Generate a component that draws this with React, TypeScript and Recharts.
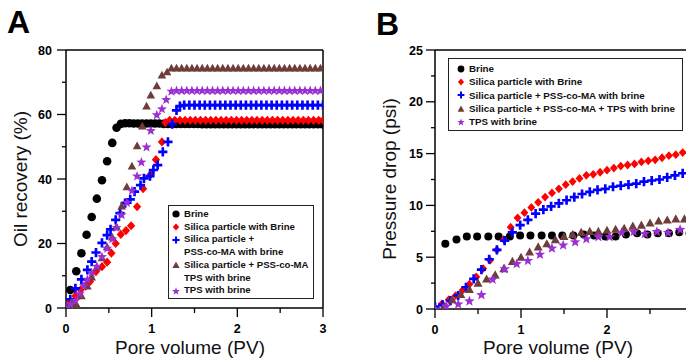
import React from 'react';
import { ScatterChart, Scatter, XAxis, YAxis, ReferenceLine } from 'recharts';

// ---- Panel A: oil recovery (%) vs pore volume (PV) ----
const brineA_pv = [0, 0.05, 0.12, 0.18, 0.24, 0.30, 0.36, 0.42, 0.48, 0.54, 0.59, 0.64, 0.69, 0.74, 0.79, 0.84, 0.89, 0.94, 0.99, 1.04, 1.09, 1.14, 1.19, 1.24, 1.29, 1.34, 1.39, 1.44, 1.49, 1.54, 1.59, 1.64, 1.69, 1.74, 1.79, 1.84, 1.89, 1.94, 1.99, 2.04, 2.09, 2.14, 2.19, 2.24, 2.29, 2.34, 2.39, 2.44, 2.49, 2.54, 2.59, 2.64, 2.69, 2.74, 2.79, 2.84, 2.89, 2.94, 2.99];
const brineA_rec = [0, 5.6, 11.4, 17, 22.7, 28.2, 33.9, 39.6, 45.5, 51.2, 55.9, 57.1, 57.3, 57.3, 57.2, 57.2, 57.2, 57.2, 57.2, 57.2, 57.2, 57.1, 57.1, 57.1, 57.1, 57.1, 57.1, 57.1, 57.1, 57.1, 57.0, 57.0, 57.0, 57.0, 57.0, 57.0, 57.0, 57.0, 57.0, 57.0, 57.0, 57.0, 57.0, 57.0, 57.0, 57.0, 57.0, 57.0, 57.0, 57.0, 57.0, 57.0, 57.0, 57.0, 57.0, 57.0, 57.0, 57.0, 57.0];

const silicaA_pv = [0, 0.05, 0.11, 0.17, 0.23, 0.28, 0.35, 0.42, 0.48, 0.53, 0.58, 0.64, 0.70, 0.76, 0.83, 0.90, 0.99, 1.05, 1.12, 1.16, 1.21, 1.27, 1.33, 1.39, 1.45, 1.51, 1.57, 1.63, 1.69, 1.75, 1.81, 1.87, 1.93, 1.99, 2.05, 2.11, 2.17, 2.23, 2.29, 2.35, 2.41, 2.47, 2.53, 2.59, 2.65, 2.71, 2.77, 2.83, 2.89, 2.95, 3.0];
const silicaA_rec = [0, 2.0, 3.7, 5.6, 6.8, 8.2, 11.3, 12.8, 14.2, 17, 20, 22.8, 24, 25.5, 31.4, 37, 41.5, 46, 51.5, 57.5, 58.2, 58.2, 58.2, 58.2, 58.2, 58.2, 58.2, 58.2, 58.2, 58.2, 58.2, 58.2, 58.2, 58.2, 58.2, 58.2, 58.2, 58.2, 58.2, 58.2, 58.2, 58.2, 58.2, 58.2, 58.2, 58.2, 58.2, 58.2, 58.2, 58.2, 58.2];

const pssA_pv = [0, 0.05, 0.11, 0.18, 0.25, 0.30, 0.35, 0.42, 0.48, 0.52, 0.58, 0.63, 0.69, 0.75, 0.80, 0.87, 0.91, 0.98, 1.02, 1.07, 1.13, 1.19, 1.24, 1.29, 1.33, 1.38, 1.44, 1.50, 1.56, 1.62, 1.68, 1.74, 1.80, 1.86, 1.92, 1.98, 2.04, 2.10, 2.16, 2.22, 2.28, 2.34, 2.40, 2.46, 2.52, 2.58, 2.64, 2.70, 2.76, 2.82, 2.88, 2.94, 3.0];
const pssA_rec = [0, 2.7, 6.1, 8.9, 11.8, 14.4, 17.2, 20.2, 22.6, 24.4, 27.3, 29.4, 32.5, 33.7, 36.1, 38.1, 40.2, 40.9, 42.8, 44.3, 48.4, 51.5, 57, 61.3, 62.6, 62.9, 62.9, 62.9, 62.9, 62.9, 62.9, 62.9, 62.9, 62.9, 62.9, 62.9, 62.9, 62.9, 62.9, 62.9, 62.9, 62.9, 62.9, 62.9, 62.9, 62.9, 62.9, 62.9, 62.9, 62.9, 62.9, 62.9, 62.9];

const tpsMixA_pv = [0, 0.06, 0.12, 0.18, 0.25, 0.30, 0.36, 0.42, 0.48, 0.54, 0.59, 0.65, 0.71, 0.77, 0.83, 0.89, 0.94, 0.99, 1.06, 1.12, 1.18, 1.23, 1.29, 1.35, 1.41, 1.47, 1.53, 1.59, 1.65, 1.71, 1.77, 1.83, 1.89, 1.95, 2.01, 2.07, 2.13, 2.19, 2.25, 2.31, 2.37, 2.43, 2.49, 2.55, 2.61, 2.67, 2.73, 2.79, 2.85, 2.91, 2.97];
const tpsMixA_rec = [0, 1.5, 1.2, 3.8, 6.8, 9.6, 12.7, 15.6, 19, 22, 25.2, 31.6, 37.6, 44, 50.3, 56.4, 62.6, 66, 68.9, 72.2, 73.2, 74.4, 74.4, 74.4, 74.4, 74.4, 74.4, 74.4, 74.4, 74.4, 74.4, 74.4, 74.4, 74.4, 74.4, 74.4, 74.4, 74.4, 74.4, 74.4, 74.4, 74.4, 74.4, 74.4, 74.4, 74.4, 74.4, 74.4, 74.4, 74.4, 74.4];

const tpsA_pv = [0, 0.05, 0.11, 0.16, 0.21, 0.25, 0.30, 0.36, 0.42, 0.48, 0.54, 0.59, 0.65, 0.71, 0.77, 0.83, 0.88, 0.94, 0.99, 1.06, 1.12, 1.17, 1.23, 1.29, 1.35, 1.41, 1.47, 1.53, 1.59, 1.65, 1.71, 1.77, 1.83, 1.89, 1.95, 2.01, 2.07, 2.13, 2.19, 2.25, 2.31, 2.37, 2.43, 2.49, 2.55, 2.61, 2.67, 2.73, 2.79, 2.85, 2.91, 2.97];
const tpsA_rec = [0, 1.2, 2.4, 4.5, 7, 9, 11, 13, 16, 18.6, 21.5, 25, 29, 32.8, 36.5, 41, 45.3, 50, 55.1, 60, 61.8, 64.7, 67.3, 67.5, 67.5, 67.5, 67.5, 67.5, 67.5, 67.5, 67.5, 67.5, 67.5, 67.5, 67.5, 67.5, 67.5, 67.5, 67.5, 67.5, 67.5, 67.5, 67.5, 67.5, 67.5, 67.5, 67.5, 67.5, 67.5, 67.5, 67.5, 67.5];

// ---- Panel B: pressure drop (psi) vs pore volume (PV) ----
const brineB_pv = [0, 0.12, 0.25, 0.37, 0.49, 0.62, 0.74, 0.87, 0.99, 1.11, 1.24, 1.36, 1.48, 1.61, 1.73, 1.85, 1.98, 2.10, 2.22, 2.35, 2.47, 2.59, 2.72, 2.84, 2.96];
const brineB_dp = [0, 6.3, 6.7, 7.0, 7.0, 7.0, 7.0, 7.0, 7.1, 7.1, 7.1, 7.1, 7.1, 7.1, 7.2, 7.1, 7.0, 7.0, 7.2, 7.3, 7.2, 7.3, 7.3, 7.4, 7.3];

const silicaB_pv = [0, 0.08, 0.16, 0.24, 0.32, 0.40, 0.48, 0.56, 0.64, 0.72, 0.80, 0.88, 0.96, 1.04, 1.12, 1.20, 1.28, 1.36, 1.44, 1.52, 1.60, 1.68, 1.76, 1.84, 1.92, 2.00, 2.08, 2.16, 2.24, 2.32, 2.40, 2.48, 2.56, 2.64, 2.72, 2.80, 2.88, 2.96];
const silicaB_dp = [0.1, 0.5, 0.9, 1.3, 1.8, 2.4, 3.1, 3.9, 4.7, 5.7, 6.7, 7.9, 8.8, 9.3, 9.8, 10.3, 10.8, 11.2, 11.6, 12.0, 12.3, 12.6, 12.9, 13.0, 13.2, 13.4, 13.6, 13.8, 13.9, 14.0, 14.2, 14.3, 14.4, 14.6, 14.8, 14.9, 15.1, 15.2];

const pssB_pv = [0, 0.09, 0.18, 0.27, 0.36, 0.45, 0.54, 0.63, 0.72, 0.81, 0.90, 0.99, 1.08, 1.17, 1.26, 1.35, 1.44, 1.53, 1.62, 1.71, 1.80, 1.89, 1.98, 2.07, 2.16, 2.25, 2.34, 2.43, 2.52, 2.61, 2.70, 2.79, 2.88];
const pssB_dp = [0.2, 0.4, 0.8, 1.3, 2.1, 2.9, 3.8, 4.8, 5.7, 6.6, 7.4, 8.1, 8.6, 9.2, 9.6, 9.9, 10.2, 10.5, 10.8, 11.1, 11.3, 11.5, 11.6, 11.8, 11.9, 12.0, 12.1, 12.3, 12.4, 12.5, 12.7, 12.9, 13.1];

const tpsMixB_pv = [0, 0.1, 0.2, 0.3, 0.4, 0.5, 0.6, 0.7, 0.8, 0.9, 1.0, 1.1, 1.2, 1.3, 1.4, 1.5, 1.6, 1.7, 1.8, 1.9, 2.0, 2.1, 2.2, 2.3, 2.4, 2.5, 2.6, 2.7, 2.8, 2.9];
const tpsMixB_dp = [0, 0.2, 0.9, 1.4, 1.9, 2.5, 2.9, 3.3, 3.9, 4.6, 5.0, 5.5, 6.0, 6.3, 6.7, 7.0, 7.2, 7.4, 7.5, 7.5, 7.6, 7.7, 7.8, 8.0, 8.1, 8.3, 8.5, 8.6, 8.7, 8.7];

const tpsB_pv = [0, 0.13, 0.27, 0.40, 0.54, 0.67, 0.81, 0.95, 1.08, 1.22, 1.36, 1.49, 1.63, 1.76, 1.90, 2.03, 2.17, 2.31, 2.44, 2.58, 2.71, 2.85];
const tpsB_dp = [0, 0.3, 0.5, 0.8, 1.4, 2.9, 3.9, 4.4, 4.7, 5.3, 5.9, 6.2, 6.5, 6.8, 7.0, 7.0, 7.4, 7.5, 7.3, 7.5, 7.4, 7.7];

const legendA = [
  ['Brine'],
  ['Silica particle with Brine'],
  ['Silica particle +', 'PSS-co-MA with brine'],
  ['Silica particle + PSS-co-MA', 'TPS with brine'],
  ['TPS with brine'],
];
const legendB = [
  ['Brine'],
  ['Silica particle with Brine'],
  ['Silica particle + PSS-co-MA with brine'],
  ['Silica particle + PSS-co-MA + TPS with brine'],
  ['TPS with brine'],
];

const kinds = ['circle', 'diamond', 'plus', 'triangle', 'star'];
const colors = ['#000000', '#ff0000', '#0000ff', '#6e3d3a', '#9b2fd2'];

const xTicks = [0, 0.5, 1, 1.5, 2, 2.5, 3];
const yTicksA = [0, 10, 20, 30, 40, 50, 60, 70, 80];
const yTicksB = [0, 2.5, 5, 7.5, 10, 12.5, 15, 17.5, 20, 22.5, 25];

const pts = (xs: number[], ys: number[]) => xs.map((x, i) => ({ x, y: ys[i] }));

const seriesA = [
  pts(brineA_pv, brineA_rec),
  pts(silicaA_pv, silicaA_rec),
  pts(pssA_pv, pssA_rec),
  pts(tpsMixA_pv, tpsMixA_rec),
  pts(tpsA_pv, tpsA_rec),
];
const seriesB = [
  pts(brineB_pv, brineB_dp),
  pts(silicaB_pv, silicaB_dp),
  pts(pssB_pv, pssB_dp),
  pts(tpsMixB_pv, tpsMixB_dp),
  pts(tpsB_pv, tpsB_dp),
];

function drawMark(kind: string, cx: number, cy: number, s: number, color: string) {
  if (kind === 'circle') return <circle cx={cx} cy={cy} r={s} fill={color} />;
  if (kind === 'diamond') {
    const w = s * 0.9;
    return <polygon points={`${cx},${cy - s} ${cx + w},${cy} ${cx},${cy + s} ${cx - w},${cy}`} fill={color} />;
  }
  if (kind === 'plus') {
    return (
      <path d={`M${cx - s},${cy}H${cx + s}M${cx},${cy - s}V${cy + s}`} stroke={color} strokeWidth={s * 0.58} fill="none" />
    );
  }
  if (kind === 'triangle') {
    return <polygon points={`${cx},${cy - s} ${cx + s},${cy + s * 0.8} ${cx - s},${cy + s * 0.8}`} fill={color} />;
  }
  // star
  const p: string[] = [];
  for (let i = 0; i < 10; i++) {
    const a = (-90 + i * 36) * Math.PI / 180;
    const r = i % 2 === 0 ? s * 1.15 : s * 0.48;
    p.push(`${cx + r * Math.cos(a)},${cy + 0.1 * s + r * Math.sin(a)}`);
  }
  return <polygon points={p.join(' ')} fill={color} />;
}

const sizesA = [4.3, 4.6, 4.6, 4.3, 4.6];
const sizesB = [4.0, 4.4, 4.6, 4.5, 4.8];

const shapeFor = (i: number, sizes: number[]) => (props: any) =>
  drawMark(kinds[i], props.cx, props.cy, sizes[i], colors[i]);

const axisLine = { stroke: '#000', strokeWidth: 1.5 };

// major ticks are longer and labelled, minor ticks short and bare
const bottomTick = (label: (v: number) => string) => (props: any) => {
  const { x, y, payload } = props;
  const t = label(payload.value);
  const major = Number.isInteger(payload.value);
  return (
    <g>
      <line x1={x} y1={y} x2={x} y2={y + (major ? 9 : 5)} stroke="#000" strokeWidth={1.3} />
      {t !== '' && (
        <text x={x} y={y + 25} textAnchor="middle" fontSize={12.5} fontWeight="bold" fill="#000">{t}</text>
      )}
    </g>
  );
};
const leftTick = (step: number, gap: number) => (props: any) => {
  const { x, y, payload } = props;
  const major = payload.value % step === 0;
  return (
    <g>
      <line x1={x} y1={y} x2={x - (major ? 9 : 4)} y2={y} stroke="#000" strokeWidth={1.3} />
      {major && (
        <text x={x - gap} y={y} dy="0.36em" textAnchor="end" fontSize={12.5} fontWeight="bold" fill="#000">{payload.value}</text>
      )}
    </g>
  );
};

function Legend({ left, top, width, height, rows, lineH, padTop, markX, textX, ms, fs }: any) {
  let line = 0;
  return (
    <div style={{ position: 'absolute', left, top, width, height, border: '1px solid #222', background: '#fff', boxSizing: 'border-box' }}>
      {rows.map((lines: string[], i: number) => {
        const first = line;
        line += lines.length;
        return (
          <React.Fragment key={i}>
            <svg style={{ position: 'absolute', left: markX - 6, top: padTop + first * lineH + lineH / 2 - 6 }} width={12} height={12}>
              {drawMark(kinds[i], 6, 6, ms, colors[i])}
            </svg>
            {lines.map((t, j) => (
              <div key={j} style={{ position: 'absolute', left: textX, top: padTop + (first + j) * lineH, height: lineH, lineHeight: `${lineH}px`, fontSize: fs, fontWeight: 'bold', whiteSpace: 'nowrap', color: '#111' }}>
                {t}
              </div>
            ))}
          </React.Fragment>
        );
      })}
    </div>
  );
}

const title = (text: string, cx: number, cy: number, rotate: boolean, size = 19) => (
  <div style={{ position: 'absolute', left: cx, top: cy, transform: `translate(-50%,-50%)${rotate ? ' rotate(-90deg)' : ''}`, fontSize: size, whiteSpace: 'nowrap', color: '#111' }}>
    {text}
  </div>
);

export default function App() {
  return (
    <div style={{ position: 'absolute', left: 0, top: 0, width: 686, height: 361, overflow: 'hidden', background: '#fff', fontFamily: 'Arial, "Liberation Sans", sans-serif' }}>
      {/* Panel A */}
      <div style={{ position: 'absolute', left: 0, top: 0 }}>
        <ScatterChart width={340} height={361} margin={{ top: 50, right: 17, bottom: 23, left: 16 }}>
          <XAxis type="number" dataKey="x" domain={[0, 3]} ticks={xTicks} interval={0} allowDataOverflow
            tick={bottomTick((v) => (Number.isInteger(v) ? String(v) : ''))}
            axisLine={axisLine} tickLine={false} tickSize={0} tickMargin={0} height={30} />
          <YAxis type="number" dataKey="y" domain={[0, 80]} ticks={yTicksA} interval={0} allowDataOverflow
            tick={leftTick(20, 14)} axisLine={axisLine} tickLine={false} tickSize={0} tickMargin={0} width={50} />
          <ReferenceLine y={80} stroke="#000" strokeWidth={1.5} />
          <ReferenceLine x={3} stroke="#000" strokeWidth={1.5} />
          {seriesA.map((d, i) => (
            <Scatter key={i} data={d} shape={shapeFor(i, sizesA)} isAnimationActive={false} />
          ))}
        </ScatterChart>
      </div>
      <div style={{ position: 'absolute', left: 7, top: 4, fontSize: 32, fontWeight: 'bold', lineHeight: '36px' }}>A</div>
      {title('Oil recovery (%)', 21, 179, true)}
      {title('Pore volume (PV)', 190, 348, false)}
      <Legend left={168} top={205} width={146} height={94} rows={legendA} lineH={12.7} padTop={2} markX={7} textX={15} ms={3.6} fs={9.6} />

      {/* Panel B */}
      <div style={{ position: 'absolute', left: 345, top: 0 }}>
        <ScatterChart width={360} height={361} margin={{ top: 50, right: 12, bottom: 22, left: 40 }}>
          <XAxis type="number" dataKey="x" domain={[0, 3]} ticks={xTicks} interval={0} allowDataOverflow
            tick={bottomTick((v) => (Number.isInteger(v) && v < 3 ? String(v) : ''))}
            axisLine={axisLine} tickLine={false} tickSize={0} tickMargin={0} height={30} />
          <YAxis type="number" dataKey="y" domain={[0, 25]} ticks={yTicksB} interval={0} allowDataOverflow
            tick={leftTick(5, 12)} axisLine={axisLine} tickLine={false} tickSize={0} tickMargin={0} width={50} />
          <ReferenceLine y={25} stroke="#000" strokeWidth={1.5} />
          {seriesB.map((d, i) => (
            <Scatter key={i} data={d} shape={shapeFor(i, sizesB)} isAnimationActive={false} />
          ))}
        </ScatterChart>
      </div>
      <div style={{ position: 'absolute', left: 376, top: 6, fontSize: 32, fontWeight: 'bold', lineHeight: '36px' }}>B</div>
      {title('Pressure drop (psi)', 390, 179, true)}
      {title('Pore volume (PV)', 558, 348, false)}
      <Legend left={448} top={58} width={235} height={73} rows={legendB} lineH={13.3} padTop={3} markX={12} textX={20} ms={3.4} fs={9.8} />
    </div>
  );
}
